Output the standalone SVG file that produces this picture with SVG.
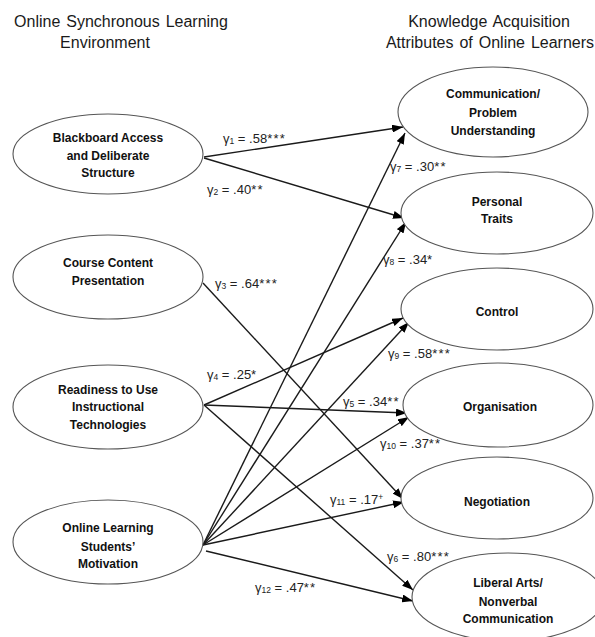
<svg xmlns="http://www.w3.org/2000/svg" width="595" height="637" viewBox="0 0 595 637">
<defs>
<style>
.hdr{font-family:"Liberation Sans",Arial,sans-serif;font-size:16px;fill:#1a1a1a;text-anchor:middle;word-spacing:1.5px}
.nd{fill:#fff;stroke:#555;stroke-width:1.1}
.lb{font-family:"Liberation Sans",Arial,sans-serif;font-size:12px;font-weight:bold;fill:#111;text-anchor:middle}
.cn{stroke:#1a1a1a;stroke-width:1.4;fill:none;marker-end:url(#ah)}
.g{font-family:"Liberation Sans",Arial,sans-serif;font-size:13px;fill:#222}
.s{font-size:8.5px}
.st{letter-spacing:1.2px}
</style>
<marker id="ah" markerWidth="11" markerHeight="8" refX="11" refY="4" orient="auto" markerUnits="userSpaceOnUse">
<path d="M0,0 L11,4 L0,8 z" fill="#000"/>
</marker>
</defs>
<rect width="595" height="637" fill="#fff"/>
<g id="headers">
<text class="hdr" x="121" y="27">Online Synchronous Learning</text>
<text class="hdr" x="105" y="48">Environment</text>
<text class="hdr" x="489" y="27">Knowledge Acquisition</text>
<text class="hdr" x="490" y="48">Attributes of Online Learners</text>
</g>
<g id="connectors">
<path class="cn" d="M204,157 L403,127"/>
<path class="cn" d="M204,158 L404,218"/>
<path class="cn" d="M203,283 L403,499"/>
<path class="cn" d="M204,405 L403,318"/>
<path class="cn" d="M204,405 L407,413"/>
<path class="cn" d="M204,405 L413,590"/>
<path class="cn" d="M203,545 L405,133"/>
<path class="cn" d="M203,545 L406,222"/>
<path class="cn" d="M203,545 L409,322"/>
<path class="cn" d="M203,545 L409,417"/>
<path class="cn" d="M203,545 L404,502"/>
<path class="cn" d="M206,551 L413,601"/>
</g>
<g id="n-blackboard">
<ellipse class="nd" cx="108" cy="154" rx="95" ry="40"/>
<text class="lb" x="108" y="142">Blackboard Access</text>
<text class="lb" x="108" y="160">and Deliberate</text>
<text class="lb" x="108" y="177">Structure</text>
</g>
<g id="n-course">
<ellipse class="nd" cx="108" cy="277" rx="95" ry="42"/>
<text class="lb" x="108" y="267">Course Content</text>
<text class="lb" x="108" y="285">Presentation</text>
</g>
<g id="n-readiness">
<ellipse class="nd" cx="108" cy="407" rx="95" ry="42"/>
<text class="lb" x="108" y="394">Readiness to Use</text>
<text class="lb" x="108" y="411">Instructional</text>
<text class="lb" x="108" y="429">Technologies</text>
</g>
<g id="n-motivation">
<ellipse class="nd" cx="108" cy="542" rx="95" ry="42"/>
<text class="lb" x="108" y="532">Online Learning</text>
<text class="lb" x="108" y="551">Students’</text>
<text class="lb" x="108" y="568">Motivation</text>
</g>
<g id="n-communication">
<ellipse class="nd" cx="493" cy="112" rx="95" ry="45"/>
<text class="lb" x="493" y="98">Communication/</text>
<text class="lb" x="493" y="117">Problem</text>
<text class="lb" x="493" y="135">Understanding</text>
</g>
<g id="n-personal">
<ellipse class="nd" cx="497" cy="213" rx="96" ry="41"/>
<text class="lb" x="497" y="206">Personal</text>
<text class="lb" x="497" y="223">Traits</text>
</g>
<g id="n-control">
<ellipse class="nd" cx="497" cy="309" rx="96" ry="41"/>
<text class="lb" x="497" y="316">Control</text>
</g>
<g id="n-organisation">
<ellipse class="nd" cx="498" cy="405" rx="95" ry="42"/>
<text class="lb" x="500" y="411">Organisation</text>
</g>
<g id="n-negotiation">
<ellipse class="nd" cx="497" cy="498" rx="96" ry="41"/>
<text class="lb" x="497" y="506">Negotiation</text>
</g>
<g id="n-liberal">
<ellipse class="nd" cx="508" cy="597" rx="96" ry="44"/>
<text class="lb" x="508" y="587">Liberal Arts/</text>
<text class="lb" x="508" y="606">Nonverbal</text>
<text class="lb" x="508" y="623">Communication</text>
</g>
<g id="labels">
<text class="g" x="223" y="143">γ<tspan class="s" dy="1">1</tspan><tspan dy="-1"> = .58</tspan><tspan class="st">***</tspan></text>
<text class="g" x="207" y="194">γ<tspan class="s" dy="1">2</tspan><tspan dy="-1"> = .40</tspan><tspan class="st">**</tspan></text>
<text class="g" x="390" y="171">γ<tspan class="s" dy="1">7</tspan><tspan dy="-1"> = .30</tspan><tspan class="st">**</tspan></text>
<text class="g" x="383" y="264">γ<tspan class="s" dy="1">8</tspan><tspan dy="-1"> = .34*</tspan></text>
<text class="g" x="215" y="288">γ<tspan class="s" dy="1">3</tspan><tspan dy="-1"> = .64</tspan><tspan class="st">***</tspan></text>
<text class="g" x="207" y="379">γ<tspan class="s" dy="1">4</tspan><tspan dy="-1"> = .25*</tspan></text>
<text class="g" x="388" y="358">γ<tspan class="s" dy="1">9</tspan><tspan dy="-1"> = .58</tspan><tspan class="st">***</tspan></text>
<text class="g" x="343" y="406">γ<tspan class="s" dy="1">5</tspan><tspan dy="-1"> = .34</tspan><tspan class="st">**</tspan></text>
<text class="g" x="380" y="448">γ<tspan class="s" dy="1">10</tspan><tspan dy="-1"> = .37</tspan><tspan class="st">**</tspan></text>
<text class="g" x="330" y="504">γ<tspan class="s" dy="1">11</tspan><tspan dy="-1"> = .17</tspan><tspan class="s" dy="-4">+</tspan></text>
<text class="g" x="387" y="561">γ<tspan class="s" dy="1">6</tspan><tspan dy="-1"> = .80</tspan><tspan class="st">***</tspan></text>
<text class="g" x="255" y="592">γ<tspan class="s" dy="1">12</tspan><tspan dy="-1"> = .47</tspan><tspan class="st">**</tspan></text>
</g>
</svg>
